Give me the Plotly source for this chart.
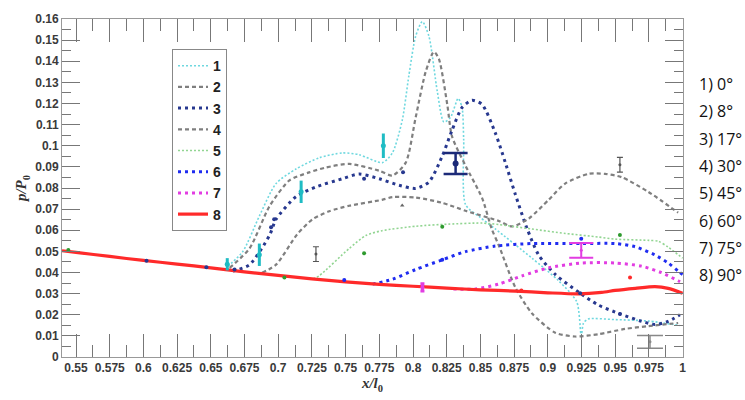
import plotly.graph_objects as go

# ---------------- data ----------------
s1_x = [0.6627, 0.6737, 0.686, 0.6984, 0.7132, 0.7305, 0.7477, 0.76, 0.7773, 0.7847, 0.792, 0.797, 0.802, 0.8069,
        0.8118, 0.818, 0.8229, 0.8279, 0.8335, 0.8364, 0.8376, 0.839, 0.85, 0.8611, 0.8882, 0.908, 0.9215, 0.9248,
        0.9265, 0.93, 0.95, 0.975, 0.998]
s1_y = [0.043, 0.0499, 0.0667, 0.0821, 0.089, 0.0943, 0.0966, 0.0958, 0.092, 0.0966, 0.112, 0.1335, 0.1519, 0.1588,
        0.1519, 0.1258, 0.1112, 0.1135, 0.1224, 0.1181, 0.1028, 0.0721, 0.066, 0.0606, 0.0468, 0.0361, 0.0261, 0.01,
        0.0161, 0.018, 0.0177, 0.017, 0.0149]

s2_x = [0.664, 0.6787, 0.6935, 0.7083, 0.723, 0.7354, 0.7527, 0.7748, 0.7847, 0.7946, 0.802, 0.8094, 0.8155, 0.8192,
        0.8254, 0.829, 0.839, 0.8513, 0.8584, 0.8636, 0.8759, 0.8882, 0.9055, 0.9203, 0.9375, 0.9573, 0.9745, 0.9967]
s2_y = [0.0422, 0.0514, 0.0713, 0.0836, 0.0874, 0.0897, 0.0914, 0.0882, 0.0859, 0.092, 0.1135, 0.135, 0.1445, 0.1411,
        0.1196, 0.1043, 0.0905, 0.0752, 0.0606, 0.0529, 0.033, 0.0207, 0.0115, 0.0097, 0.0108, 0.0133, 0.0146, 0.0161]

s3_x = [0.6663, 0.6787, 0.6935, 0.6984, 0.7132, 0.728, 0.7477, 0.76, 0.7748, 0.7896, 0.802, 0.8118, 0.8217, 0.829,
        0.8364, 0.8438, 0.8512, 0.8611, 0.8685, 0.8759, 0.8845, 0.8932, 0.9055, 0.924, 0.9375, 0.9536, 0.9696, 0.9795,
        0.9893, 0.998]
s3_y = [0.0407, 0.0437, 0.0575, 0.0652, 0.0759, 0.0805, 0.0844, 0.0866, 0.0844, 0.0813, 0.0798, 0.0828, 0.0951, 0.1074,
        0.1181, 0.1215, 0.1196, 0.106, 0.092, 0.077, 0.061, 0.0483, 0.0391, 0.0302, 0.0246, 0.0204, 0.0169, 0.0154,
        0.0169, 0.02]

s4_x = [0.688, 0.6984, 0.714, 0.7255, 0.7379, 0.7527, 0.777, 0.7847, 0.802, 0.8215, 0.84, 0.8636, 0.8734, 0.8858,
        0.9006, 0.9129, 0.9302, 0.9425, 0.9548, 0.9745, 0.9967]
s4_y = [0.0399, 0.0437, 0.058, 0.0652, 0.069, 0.0716, 0.0744, 0.0757, 0.0755, 0.073, 0.069, 0.0644, 0.0618, 0.0655,
        0.0744, 0.0821, 0.0867, 0.0867, 0.0851, 0.0782, 0.0683]

s5_x = [0.726, 0.7305, 0.7527, 0.765, 0.777, 0.802, 0.8266, 0.851, 0.8636, 0.888, 0.913, 0.9375, 0.95, 0.975, 0.982,
        0.9893, 1.0]
s5_y = [0.037, 0.0385, 0.0514, 0.0575, 0.0598, 0.0619, 0.0629, 0.0634, 0.0627, 0.0606, 0.0585, 0.0568, 0.0558, 0.0552,
        0.0548, 0.052, 0.0468]

s6_x = [0.77, 0.7847, 0.802, 0.8217, 0.839, 0.861, 0.8882, 0.925, 0.95, 0.9647, 0.9795, 0.9893, 0.9967, 1.0]
s6_y = [0.0345, 0.0368, 0.0414, 0.046, 0.0499, 0.0525, 0.0537, 0.0537, 0.0537, 0.0522, 0.0483, 0.0445, 0.0407, 0.039]

s7_x = [0.83, 0.8464, 0.8636, 0.8809, 0.9006, 0.925, 0.95, 0.9696, 0.9844, 0.9967, 1.0]
s7_y = [0.0322, 0.0322, 0.0345, 0.0384, 0.0422, 0.0445, 0.0445, 0.043, 0.0399, 0.0361, 0.035]

s8_x = [0.5396, 0.55, 0.575, 0.6, 0.625, 0.65, 0.675, 0.7, 0.725, 0.75, 0.775, 0.8, 0.825, 0.85, 0.876, 0.9, 0.9227,
        0.94, 0.95, 0.965, 0.9795, 0.9893, 1.0]
s8_y = [0.0503, 0.0495, 0.0476, 0.0457, 0.044, 0.0422, 0.0403, 0.0386, 0.037, 0.0356, 0.0344, 0.0335, 0.0326, 0.0318,
        0.0312, 0.0304, 0.0299, 0.0306, 0.0315, 0.0325, 0.0333, 0.0325, 0.0302]

# measured points
cyan_pt_x = [0.6622, 0.686, 0.717, 0.778]
cyan_pt_y = [0.0439, 0.0484, 0.0782, 0.1000]
cyan_pt_err = [0.0029, 0.0053, 0.0053, 0.0058]

navy_pt_x = [0.6023, 0.6467, 0.6676, 0.6947, 0.697, 0.7637, 0.7926, 0.924, 0.9535]
navy_pt_y = [0.0456, 0.0425, 0.0414, 0.0614, 0.0652, 0.0844, 0.0874, 0.0302, 0.0204]
navy_big_x = [0.8316]
navy_big_y = [0.0916]
navy_big_err = [0.005]

gray_pt_x = [0.728, 0.9535]
gray_pt_y = [0.0487, 0.091]
gray_pt_err = [0.0035, 0.0035]
gray_big_x = [0.9758]
gray_big_y = [0.0072]
gray_big_err = [0.003]
gray_dot_x = [0.792]
gray_dot_y = [0.0717]

green_pt_x = [0.5443, 0.7046, 0.7637, 0.8217, 0.9535]
green_pt_y = [0.0506, 0.0376, 0.0491, 0.0617, 0.0578]

blue_pt_x = [0.749, 0.8217, 0.9248]
blue_pt_y = [0.0365, 0.046, 0.056]

mag_small_x = [0.807]
mag_small_y = [0.033]
mag_small_err = [0.0017]
mag_big_x = [0.9248]
mag_big_y = [0.0505]
mag_big_err = [0.0035]

red_pt_x = [0.8804, 0.961]
red_pt_y = [0.0315, 0.0376]

x_tickvals = [0.55, 0.575, 0.6, 0.625, 0.65, 0.675, 0.7, 0.725, 0.75, 0.775, 0.8, 0.825, 0.85, 0.875, 0.9, 0.925,
              0.95, 0.975, 1.0]
x_ticktext = ["0.55", "0.575", "0.6", "0.625", "0.65", "0.675", "0.7", "0.725", "0.75", "0.775", "0.8", "0.825",
              "0.85", "0.875", "0.9", "0.925", "0.95", "0.975", "1"]
y_tickvals = [0, 0.01, 0.02, 0.03, 0.04, 0.05, 0.06, 0.07, 0.08, 0.09, 0.1, 0.11, 0.12, 0.13, 0.14, 0.15, 0.16]
y_ticktext = ["0", "0.01", "0.02", "0.03", "0.04", "0.05", "0.06", "0.07", "0.08", "0.09", "0.1", "0.11", "0.12",
              "0.13", "0.14", "0.15", "0.16"]

angle_labels = ["1) 0°", "2) 8°", "3) 17°", "4) 30°", "5) 45°", "6) 60°", "7) 75°", "8) 90°"]

# ---------------- figure ----------------
CYAN = "#6fd8df"
GRAY = "#7f7f7f"
NAVY = "#27388f"
GREEN = "#92d592"
BLUE = "#1f2cf0"
MAG = "#e23de2"
RED = "#ff2a2a"

fig = go.Figure()
series = [
    ("1", s1_x, s1_y, CYAN, 1.6, "2px,2px"),
    ("2", s2_x, s2_y, GRAY, 2.2, "4px,3px"),
    ("3", s3_x, s3_y, NAVY, 3.0, "3px,4px"),
    ("4", s4_x, s4_y, GRAY, 2.2, "4px,3px"),
    ("5", s5_x, s5_y, GREEN, 1.6, "2px,2px"),
    ("6", s6_x, s6_y, BLUE, 3.0, "3px,4px"),
    ("7", s7_x, s7_y, MAG, 3.0, "3px,4px"),
    ("8", s8_x, s8_y, RED, 3.2, "solid"),
]
for name, xs, ys, col, w, dash in series:
    fig.add_trace(go.Scatter(x=xs, y=ys, mode="lines", name=name,
                             line=dict(color=col, width=w, dash=dash, shape="spline", smoothing=0.7)))


def pts(xs, ys, col, size=4, err=None, capw=0, ethick=2, symbol="circle"):
    kw = {}
    if err is not None:
        kw["error_y"] = dict(type="data", array=err, visible=True, color=col, thickness=ethick, width=capw)
    fig.add_trace(go.Scatter(x=xs, y=ys, mode="markers", showlegend=False,
                             marker=dict(color=col, size=size, symbol=symbol), **kw))


pts(cyan_pt_x, cyan_pt_y, "#1fbcc4", size=5, err=cyan_pt_err, capw=0, ethick=3)
pts(navy_pt_x, navy_pt_y, NAVY, size=4)
pts(navy_big_x, navy_big_y, "#1c2a78", size=6, err=navy_big_err, capw=12, ethick=2.5)
pts(gray_pt_x, gray_pt_y, "#555555", size=3, err=gray_pt_err, capw=3, ethick=1.2)
pts(gray_big_x, gray_big_y, "#888888", size=3, err=gray_big_err, capw=13, ethick=1.5)
pts(gray_dot_x, gray_dot_y, "#666666", size=4, symbol="triangle-up")
pts(green_pt_x, green_pt_y, "#2e9a2e", size=4)
pts(blue_pt_x, blue_pt_y, BLUE, size=4)
pts(mag_small_x, mag_small_y, MAG, size=4, err=mag_small_err, capw=2, ethick=3)
pts(mag_big_x, mag_big_y, MAG, size=3, err=mag_big_err, capw=12, ethick=2)
pts(red_pt_x, red_pt_y, RED, size=4)

for i, lab in enumerate(angle_labels):
    fig.add_annotation(x=1.0225, xref="paper", y=(362 - (81 + 28.1 * i)) / 348, yref="paper",
                       text=lab, showarrow=False, xanchor="left", yanchor="middle",
                       font=dict(family="Open Sans", size=16, color="#111111"))

tickfont = dict(family="Liberation Sans", size=12, color="#3a3a3a", weight="bold")
fig.update_xaxes(range=[0.5396, 1.0003], tickvals=x_tickvals, ticktext=x_ticktext,
                 ticks="inside", ticklen=23, tickcolor="#777777", tickwidth=1,
                 minor=dict(ticks="inside", ticklen=12, dtick=0.0125, tick0=0.55, tickcolor="#777777"),
                 showline=True, linecolor="#999999", linewidth=1, mirror="ticks",
                 showgrid=False, zeroline=False, tickfont=tickfont, ticklabeloverflow="allow",
                 title=dict(text="<b><i>x/l</i></b><sub><b>0</b></sub>", standoff=2,
                            font=dict(family="Liberation Serif", size=15, color="#333333")))
fig.update_yaxes(range=[0, 0.16], tickvals=y_tickvals, ticktext=y_ticktext,
                 ticks="inside", ticklen=18, tickcolor="#777777", tickwidth=1,
                 minor=dict(ticks="inside", ticklen=9, dtick=0.005, tick0=0, tickcolor="#777777"),
                 showline=True, linecolor="#999999", linewidth=1, mirror="ticks",
                 showgrid=False, zeroline=False, tickfont=tickfont, ticklabeloverflow="allow",
                 title=dict(text="<b><i>p/P</i></b><sub><b>0</b></sub>", standoff=4,
                            font=dict(family="Liberation Serif", size=15, color="#333333")))

fig.update_layout(
    width=745, height=400,
    margin=dict(l=62, r=62, t=14, b=38),
    plot_bgcolor="white", paper_bgcolor="white",
    showlegend=True,
    legend=dict(x=(172 - 62) / 621, y=(362 - 45) / 348, xanchor="left", yanchor="top",
                bordercolor="#888888", borderwidth=1, bgcolor="white",
                font=dict(family="Liberation Sans", size=14, color="#222222", weight="bold"),
                itemwidth=30, tracegroupgap=0),
)

# remove the default page margin so the 745x400 figure fills the window exactly
fig.write_html("out.html", config={"displayModeBar": False},
               post_script="document.body.style.margin='0';document.body.style.overflow='hidden';")
